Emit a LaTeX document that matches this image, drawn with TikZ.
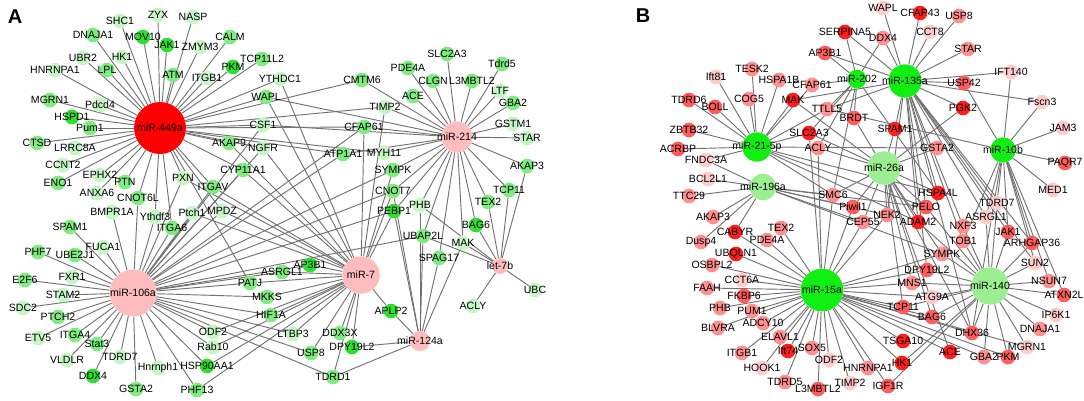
\documentclass[tikz,border=0pt]{standalone}
\usepackage{fontspec}
\setmainfont{Liberation Sans}
\pgfdeclarelayer{bg}
\pgfsetlayers{bg,main}

\definecolor{gA}{HTML}{2EE02E}
\definecolor{gB}{HTML}{80EB80}
\definecolor{gC}{HTML}{C6F5C6}
\definecolor{rA}{HTML}{FF1E1E}
\definecolor{rB}{HTML}{FF5C5C}
\definecolor{rC}{HTML}{FF9090}
\definecolor{rD}{HTML}{FFCCCC}
\definecolor{hubR}{HTML}{FF0000}
\definecolor{hubP}{HTML}{FFBCBC}
\definecolor{hubG}{HTML}{11EE11}
\definecolor{hubL}{HTML}{9CEF90}
\definecolor{edgc}{HTML}{727272}

\tikzset{
  gene/.style={circle,inner sep=0pt,minimum size=11pt,fill=#1},
  hub/.style={circle,inner sep=0pt,fill=#1},
  lab/.style={font=\fontsize{7.9}{8}\selectfont,inner sep=0pt},
  edge/.style={draw=edgc,line width=0.7pt},
  panel/.style={font=\bfseries\fontsize{15}{15}\selectfont}
}

\begin{document}
\begin{tikzpicture}[x=0.75pt,y=0.75pt,yscale=-1,xscale=1]
    \useasboundingbox (0,0) rectangle (1084,400);

    % panel letters
    \node[panel] (panA) at (15,17) {A};
    \node[panel] (panB) at (643,16) {B};

    % ---- panel A: hubs
    \node[hub=hubR,minimum size=39pt,label={[lab]center:miR-449a}] (m449) at (160,128) {};
    \node[hub=hubP,minimum size=23pt,label={[lab]center:miR-214}] (m214) at (457,137) {};
    \node[hub=hubP,minimum size=35pt,label={[lab]center:miR-106a}] (m106) at (133,293) {};
    \node[hub=hubP,minimum size=28pt,label={[lab]center:miR-7}] (m7) at (361,275) {};
    \node[hub=hubP,minimum size=15pt,label={[lab]center:miR-124a}] (m124) at (420,341) {};
    \node[hub=hubP,minimum size=12pt,label={[lab]center:let-7b}] (let7b) at (500,266) {};

    % ---- panel A: genes
    \foreach \nm/\x/\y/\cl/\tx in {
      aSHC1/120/21/gC/SHC1, aZYX/158/15/gC/ZYX, aNASP/193/17/gC/NASP,
      aDNAJA1/93/35/gB/DNAJA1, aMOV10/143/37/gA/MOV10, aJAK1/167/45/gA/JAK1,
      aCALM/230/37/gB/CALM, aZMYM3/200/47/gC/ZMYM3, aUBR2/83/58/gC/UBR2,
      aHK1/122/57/gC/HK1, aTCP11L2/262/59/gB/TCP11L2, aPKM/233/67/gA/PKM,
      aHNRNPA1/55/70/gC/HNRNPA1, aLPL/107/70/gB/LPL, aATM/173/75/gB/ATM,
      aITGB1/207/78/gC/ITGB1, aYTHDC1/280/79/gC/YTHDC1, aWAPL/266/97/gB/WAPL,
      aMGRN1/50/100/gB/MGRN1, aPdcd4/100/105/gC/Pdcd4, aHSPD1/72/117/gA/HSPD1,
      aPum1/90/128/gB/Pum1, aCTSD/37/143/gB/CTSD, aLRRC8A/75/148/gC/LRRC8A,
      aCSF1/263/125/gC/CSF1, aAKAP9/229/143/gB/AKAP9, aNGFR/263/148/gC/NGFR,
      aCCNT2/63/165/gC/CCNT2, aEPHX2/100/175/gC/EPHX2, aENO1/58/183/gB/ENO1,
      aPTN/125/182/gB/PTN, aANXA6/97/193/gC/ANXA6, aCNOT6L/138/198/gB/CNOT6L,
      aPXN/183/178/gC/PXN, aCYP11A1/243/170/gB/CYP11A1, aITGAV/213/187/gB/ITGAV,
      aCMTM6/362/80/gB/CMTM6, aCFAP61/364/127/gB/CFAP61, aATP1A1/343/154/gB/ATP1A1,
      aSLC2A3/447/54/gB/SLC2A3, aPDE4A/408/68/gB/PDE4A, aTdrd5/502/64/gB/Tdrd5,
      aCLGN/433/81/gB/CLGN, aL3MBTL2/472/81/gB/L3MBTL2, aLTF/500/91/gC/LTF,
      aACE/413/96/gB/ACE, aGBA2/513/103/gB/GBA2, aTIMP2/385/107/gC/TIMP2,
      aGSTM1/513/124/gC/GSTM1, aSTAR/527/138/gC/STAR, aMYH11/384/153/gC/MYH11,
      aSYMPK/393/170/gB/SYMPK, aAKAP3/527/166/gB/AKAP3, aCNOT7/393/191/gB/CNOT7,
      aTCP11/509/190/gB/TCP11, aTEX2/488/202/gB/TEX2, aPEBP1/394/211/gA/PEBP1,
      aPHB/420/205/gC/PHB, aBAG6/476/225/gA/BAG6, aUBAP2L/423/236/gB/UBAP2L,
      aMAK/463/243/gC/MAK, aSPAG17/439/258/gB/SPAG17, aACLY/473/306/gC/ACLY,
      aUBC/535/290/gC/UBC, aAPLP2/391/311/gA/APLP2, aDPY19L2/352/347/gA/DPY19L2,
      aDDX3X/340/333/gB/DDX3X, aUSP8/311/353/gB/USP8, aTDRD1/333/377/gB/TDRD1,
      aLTBP3/293/334/gC/LTBP3, aHIF1A/271/315/gB/HIF1A, aMKKS/267/297/gB/MKKS,
      aPATJ/250/283/gB/PATJ, aASRGL1/282/272/gB/ASRGL1, aAP3B1/310/265/gA/AP3B1,
      aODF2/213/332/gC/ODF2, aRab10/213/347/gC/Rab10, aHSP90AA1/207/366/gA/HSP90AA1,
      aPHF13/197/390/gB/PHF13, aPtch1/192/213/gC/Ptch1, aMPDZ/222/211/gC/MPDZ,
      aITGA6/172/228/gB/ITGA6, aYthdf3/155/217/gC/Ythdf3, aBMPR1A/112/212/gC/BMPR1A,
      aSPAM1/70/227/gB/SPAM1, aFUCA1/103/247/gC/FUCA1, aPHF7/38/252/gB/PHF7,
      aUBE2J1/75/255/gB/UBE2J1, aE2F6/25/280/gB/E2F6, aFXR1/72/277/gC/FXR1,
      aSTAM2/63/295/gC/STAM2, aSDC2/23/308/gC/SDC2, aPTCH2/58/317/gB/PTCH2,
      aETV5/38/338/gC/ETV5, aITGA4/75/335/gB/ITGA4, aStat3/97/344/gB/Stat3,
      aVLDLR/67/360/gC/VLDLR, aTDRD7/120/357/gC/TDRD7, aDDX4/93/376/gA/DDX4,
      aHnrnph1/158/368/gC/Hnrnph1, aGSTA2/136/389/gB/GSTA2}
      \node[gene=\cl,label={[lab]center:\tx}] (\nm) at (\x,\y) {};

    % ---- panel B: hubs
    \node[hub=hubG,minimum size=22pt,label={[lab]center:miR-21-5p}] (m21) at (757,147) {};
    \node[hub=hubG,minimum size=14pt,label={[lab]center:miR-202}] (m202) at (857,79) {};
    \node[hub=hubG,minimum size=25pt,label={[lab]center:miR-135a}] (m135) at (905,81) {};
    \node[hub=hubL,minimum size=25pt,label={[lab]center:miR-26a}] (m26) at (884,168) {};
    \node[hub=hubG,minimum size=19pt,label={[lab]center:miR-10b}] (m10b) at (1003,150) {};
    \node[hub=hubL,minimum size=20pt,label={[lab]center:miR-196a}] (m196) at (763,187) {};
    \node[hub=hubG,minimum size=32pt,label={[lab]center:miR-15a}] (m15) at (822,290) {};
    \node[hub=hubL,minimum size=28pt,label={[lab]center:miR-140}] (m140) at (990,286) {};

    % ---- panel B: genes
    \foreach \nm/\x/\y/\cl/\tx in {
      bIft81/716/77/rD/Ift81, bTDRD6/689/100/rB/TDRD6, bBOLL/715/107/rB/BOLL,
      bZBTB32/689/130/rB/ZBTB32, bACRBP/678/149/rB/ACRBP, bFNDC3A/706/160/rD/FNDC3A,
      bBCL2L1/708/179/rD/BCL2L1, bTTC29/689/196/rC/TTC29, bTESK2/752/69/rC/TESK2,
      bHSPA1B/779/80/rC/HSPA1B, bCFAP61/812/85/rC/CFAP61, bCOG5/749/99/rC/COG5,
      bMAK/793/100/rA/MAK, bTTLL5/827/109/rC/TTLL5, bBRDT/854/118/rB/BRDT,
      bSPAM1/895/129/rA/SPAM1, bSLC2A3/809/133/rA/SLC2A3, bACLY/818/148/rC/ACLY,
      bSMC6/833/195/rC/SMC6, bAP3B1/825/53/rB/AP3B1, bSERPINA5/845/32/rA/SERPINA5,
      bDDX4/883/38/rC/DDX4, bWAPL/883/8/rD/WAPL, bCFAP43/920/13/rA/CFAP43,
      bCCT8/930/32/rD/CCT8, bUSP8/959/16/rC/USP8, bSTAR/968/49/rC/STAR,
      bIFT140/1011/72/rD/IFT140, bUSP42/964/83/rB/USP42, bFscn3/1042/102/rD/Fscn3,
      bPGK2/963/108/rA/PGK2, bJAM3/1063/128/rD/JAM3, bGSTA2/937/148/rC/GSTA2,
      bPAQR7/1065/163/rB/PAQR7, bMED1/1053/190/rD/MED1, bHSPA4L/938/193/rA/HSPA4L,
      bPiwil1/853/207/rB/Piwil1, bNEK2/887/215/rC/NEK2, bCEP55/863/222/rC/CEP55,
      bTDRD7/997/203/rD/TDRD7, bPELO/926/207/rB/PELO, bADAM2/918/222/rA/ADAM2,
      bASRGL1/986/217/rD/ASRGL1, bNXF3/963/226/rC/NXF3, bJAK1/1008/232/rB/JAK1,
      bTOB1/963/241/rC/TOB1, bARHGAP36/1032/243/rB/ARHGAP36, bSYMPK/942/254/rC/SYMPK,
      bSUN2/1035/263/rD/SUN2, bDPY19L2/927/270/rB/DPY19L2, bMNS1/912/283/rC/MNS1,
      bNSUN7/1049/281/rC/NSUN7, bATXN2L/1064/295/rB/ATXN2L, bATG9A/932/297/rD/ATG9A,
      bTCP11/903/307/rB/TCP11, bIP6K1/1056/315/rD/IP6K1, bBAG6/932/317/rB/BAG6,
      bDNAJA1/1040/329/rC/DNAJA1, bDHX36/972/333/rB/DHX36, bTSGA10/903/341/rA/TSGA10,
      bMGRN1/1027/347/rD/MGRN1, bACE/950/352/rA/ACE, bGBA2/984/357/rC/GBA2,
      bPKM/1008/357/rB/PKM, bHK1/902/363/rA/HK1, bIGF1R/888/386/rB/IGF1R,
      bTIMP2/850/383/rD/TIMP2, bHNRNPA1/868/368/rC/HNRNPA1, bL3MBTL2/818/389/rB/L3MBTL2,
      bTDRD5/785/382/rC/TDRD5, bODF2/829/360/rD/ODF2, bSOX5/812/348/rC/SOX5,
      bIft74/788/351/rA/Ift74, bHOOK1/762/368/rD/HOOK1, bITGB1/742/353/rC/ITGB1,
      bELAVL1/780/337/rC/ELAVL1, bADCY10/763/323/rC/ADCY10, bPUM1/752/311/rC/PUM1,
      bPHB/720/308/rC/PHB, bBLVRA/718/328/rC/BLVRA, bFKBP6/744/296/rB/FKBP6,
      bCCT6A/742/280/rD/CCT6A, bFAAH/707/288/rC/FAAH, bOSBPL2/712/265/rC/OSBPL2,
      bUBQLN1/736/254/rA/UBQLN1, bDusp4/701/242/rC/Dusp4, bAKAP3/713/217/rC/AKAP3,
      bCABYR/735/232/rA/CABYR, bTEX2/781/228/rC/TEX2, bPDE4A/767/240/rC/PDE4A}
      \node[gene=\cl,label={[lab]center:\tx}] (\nm) at (\x,\y) {};

    % ---- interactions, kept under the nodes
    \begin{pgfonlayer}{bg}
    \foreach \h/\gs in {
      m449/{aSHC1,aZYX,aDNAJA1,aMOV10,aJAK1,aUBR2,aHK1,aHNRNPA1,aLPL,aATM,aMGRN1,aPdcd4,aHSPD1,aPum1,aCTSD,aLRRC8A,aCCNT2,aENO1,aEPHX2,aPTN,aANXA6,aCNOT6L,aNASP,aCALM,aZMYM3,aPKM,aTCP11L2,aITGB1,aYTHDC1,aWAPL,aCSF1,aAKAP9,aNGFR,aPXN,aITGAV,aCYP11A1,aCMTM6,aCFAP61,aATP1A1,aTIMP2,aMYH11,aYthdf3,aMPDZ,aITGA6,aPATJ},
      m214/{aSLC2A3,aPDE4A,aTdrd5,aCLGN,aL3MBTL2,aLTF,aACE,aGBA2,aTIMP2,aCFAP61,aGSTM1,aSTAR,aMYH11,aSYMPK,aAKAP3,aCNOT7,aTCP11,aTEX2,aCMTM6,aCSF1,aWAPL,aPEBP1,aPHB,aBAG6,aUBAP2L,aMAK,aSPAG17,aATP1A1},
      m106/{aBMPR1A,aYthdf3,aSPAM1,aFUCA1,aPHF7,aUBE2J1,aE2F6,aFXR1,aSTAM2,aSDC2,aPTCH2,aETV5,aITGA4,aStat3,aVLDLR,aTDRD7,aDDX4,aHnrnph1,aGSTA2,aPHF13,aHSP90AA1,aRab10,aODF2,aITGA6,aPtch1,aMPDZ,aPATJ,aMKKS,aHIF1A,aLTBP3,aUSP8,aTDRD1,aAP3B1,aASRGL1,aCNOT6L,aPXN,aITGAV,aCFAP61,aATP1A1,aSYMPK,aCSF1,aCNOT7,aPEBP1,aNGFR,aCYP11A1,aUBAP2L},
      m7/{aAP3B1,aASRGL1,aDDX3X,aDPY19L2,aAPLP2,aTDRD1,aUSP8,aLTBP3,aHIF1A,aMKKS,aPATJ,aODF2,aRab10,aHSP90AA1,aPHF13,aPtch1,aMPDZ,aWAPL,aYTHDC1,aAKAP9,aNGFR,aTIMP2,aCFAP61,aSYMPK,aCNOT7,aPEBP1,aCYP11A1,aITGAV,aPXN},
      m124/{aAPLP2,aPEBP1,aPHB,aUBAP2L,aSPAG17,aMAK,aTDRD1,aDPY19L2,aCNOT7},
      let7b/{aACLY,aUBC,aBAG6,aMAK,aUBAP2L,aTEX2,aTCP11,aAKAP3,aPHB},
      m21/{bIft81,bTDRD6,bBOLL,bZBTB32,bACRBP,bFNDC3A,bTESK2,bHSPA1B,bCOG5,bMAK,bCFAP61,bTTLL5,bSLC2A3,bGSTA2,bHSPA4L,bPELO,bADAM2,bSMC6},
      m202/{bSERPINA5,bDDX4,bAP3B1,bCFAP61,bTTLL5,bBRDT,bSLC2A3,bACLY,bSMC6,bHSPA4L},
      m135/{bWAPL,bCFAP43,bCCT8,bUSP8,bSTAR,bIFT140,bUSP42,bFscn3,bPGK2,bSPAM1,bSERPINA5,bAP3B1,bDDX4,bMAK,bTTLL5,bADAM2,bPELO,bHSPA4L,bNEK2,bASRGL1,bTDRD7,bTOB1,bNXF3,bDPY19L2,bJAK1,bARHGAP36,bSUN2,bDHX36},
      m10b/{bIFT140,bUSP42,bFscn3,bJAM3,bPAQR7,bMED1,bTTLL5,bJAK1,bARHGAP36,bSUN2,bNSUN7,bATXN2L,bTDRD7,bASRGL1,bTOB1,bDHX36},
      m26/{bSPAM1,bGSTA2,bBRDT,bSMC6,bPiwil1,bNEK2,bCEP55,bHSPA4L,bPELO,bADAM2,bACLY,bSLC2A3,bMAK,bPGK2,bSYMPK,bMNS1,bTCP11,bBAG6,bDHX36,bACE},
      m196/{bBCL2L1,bTTC29,bFNDC3A,bAKAP3,bCABYR,bDusp4,bSMC6,bCEP55,bPiwil1,bNEK2,bSYMPK,bPELO},
      m15/{bCABYR,bTEX2,bPDE4A,bUBQLN1,bCCT6A,bFKBP6,bPHB,bPUM1,bADCY10,bELAVL1,bITGB1,bIft74,bSOX5,bHOOK1,bTDRD5,bL3MBTL2,bODF2,bHNRNPA1,bTIMP2,bIGF1R,bHK1,bTSGA10,bTCP11,bBAG6,bATG9A,bMNS1,bDPY19L2,bSYMPK,bCEP55,bNEK2,bPiwil1,bOSBPL2,bFAAH,bBLVRA,bDHX36,bACE,bGBA2,bPKM,bMGRN1,bACLY,bSLC2A3,bSMC6},
      m140/{bTDRD7,bASRGL1,bNXF3,bJAK1,bTOB1,bARHGAP36,bSYMPK,bSUN2,bDPY19L2,bMNS1,bNSUN7,bATXN2L,bATG9A,bTCP11,bIP6K1,bBAG6,bDNAJA1,bDHX36,bMGRN1,bGBA2,bPKM,bHK1,bIGF1R,bPELO,bADAM2}}
      \foreach \g in \gs \draw[edge] (\h) -- (\g);
    \end{pgfonlayer}

\end{tikzpicture}
\end{document}
